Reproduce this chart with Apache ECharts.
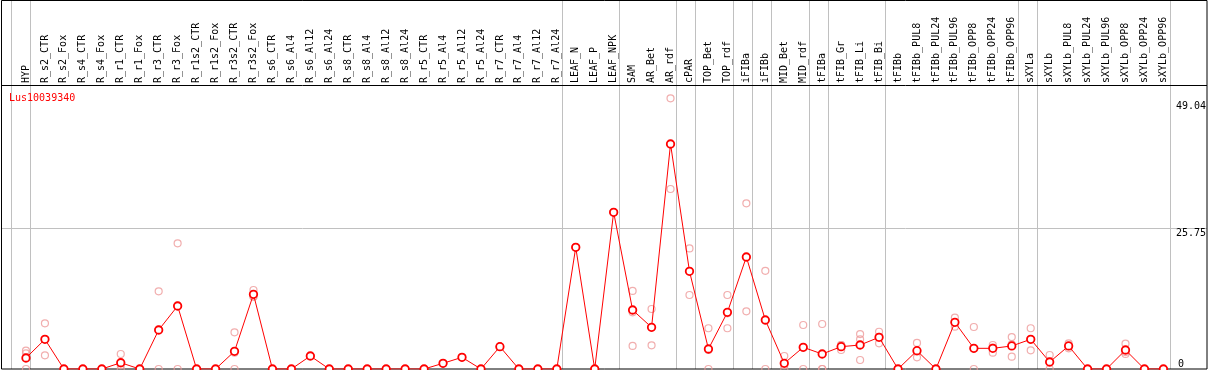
<!DOCTYPE html>
<html>
<head>
<meta charset="utf-8">
<script src="https://cdn.jsdelivr.net/npm/echarts@6/dist/echarts.min.js"></script>
<style>
html,body{margin:0;padding:0;background:#fff;}
#chart{width:1209px;height:370px;}
</style>
</head>
<body>
<div id="chart"></div>
<script>
const geneName = 'Lus10039340';
const categories = ['HYP','R_s2_CTR','R_s2_Fox','R_s4_CTR','R_s4_Fox','R_r1_CTR','R_r1_Fox','R_r3_CTR','R_r3_Fox','R_r1s2_CTR','R_r1s2_Fox','R_r3s2_CTR','R_r3s2_Fox','R_s6_CTR','R_s6_Al4','R_s6_Al12','R_s6_Al24','R_s8_CTR','R_s8_Al4','R_s8_Al12','R_s8_Al24','R_r5_CTR','R_r5_Al4','R_r5_Al12','R_r5_Al24','R_r7_CTR','R_r7_Al4','R_r7_Al12','R_r7_Al24','LEAF_N','LEAF_P','LEAF_NPK','SAM','AR_Bet','AR_rdf','cPAR','TOP_Bet','TOP_rdf','iFIBa','iFIBb','MID_Bet','MID_rdf','tFIBa','tFIB_Gr','tFIB_Li','tFIB_Bi','tFIBb','tFIBb_PUL8','tFIBb_PUL24','tFIBb_PUL96','tFIBb_OPP8','tFIBb_OPP24','tFIBb_OPP96','sXYLa','sXYLb','sXYLb_PUL8','sXYLb_PUL24','sXYLb_PUL96','sXYLb_OPP8','sXYLb_OPP24','sXYLb_OPP96'];
const groupStarts = [0,1,29,32,35,36,38,39,40,42,43,46,53,54];
const meanValues = [2.02,5.44,0,0,0,1.15,0,7.15,11.55,0,0,3.24,13.69,0,0,2.38,0,0,0,0,0,0,1.04,2.14,0,4.09,0,0,0,22.3,0,28.72,10.81,7.64,41.24,17.9,3.67,10.39,20.53,8.98,1.04,3.98,2.75,4.09,4.4,5.81,0,3.35,0,8.56,3.79,3.79,4.22,5.44,1.28,4.22,0,0,3.48,0,0];
const rep1 = [3.35,8.38,0,0,0,2.75,0,14.24,23.04,0,0,6.73,14.48,0,0,2.38,0,0,0,0,0,0,1.04,2.14,0,4.09,0,0,0,22.3,0,28.72,14.3,11.0,49.6,22.1,7.47,13.56,30.37,18.0,2.38,8.06,8.25,4.4,6.41,6.83,0,4.77,0,9.4,7.7,4.4,5.86,7.47,2.57,4.71,0,0,4.64,0,0];
const rep2 = [2.88,2.51,0,0,0,0,0,0,0,0,0,0,13.25,0,0,2.38,0,0,0,0,0,0,1.04,2.14,0,4.09,0,0,0,22.3,0,28.72,10.39,4.34,32.99,13.56,0,7.47,10.57,0,0.7,0,0,3.48,5.44,4.71,0,2.14,0,7.75,0,2.99,2.26,3.43,0,3.79,0,0,2.75,0,0];
const rep3 = [0,5.44,0,0,0,0.7,0,7.2,11.6,0,0,3.0,13.3,0,0,2.38,0,0,0,0,0,0,1.04,2.14,0,4.09,0,0,0,22.3,0,28.72,4.22,7.6,41.2,17.9,3.5,10.2,20.5,8.9,0,3.9,0,4.4,1.65,5.9,0,3.2,0,8.5,3.7,3.9,4.5,5.4,1.3,4.2,0,0,3.1,0,0];
const yMax = 51.5;
const yGridValue = 25.75;
const yTopLabels = [25.75, 49.04];
const yBottomLabels = [0];

const mono = 'DejaVu Sans Mono';
const chart = echarts.init(document.getElementById('chart'), null, {renderer: 'canvas'});

function repSeries(name, data) {
  return {
    name: name, type: 'scatter', xAxisIndex: 0, yAxisIndex: 0, data: data,
    symbol: 'circle', symbolSize: 7, z: 3,
    itemStyle: {color: 'rgba(0,0,0,0)', borderColor: '#ee9a9a', borderWidth: 1.2},
    emphasis: {disabled: true}, silent: true
  };
}

chart.setOption({
  animation: false,
  backgroundColor: '#fff',
  title: {
    text: geneName, left: 9, top: 93, padding: 0,
    textStyle: {color: '#ff0000', fontSize: 10, fontFamily: mono, fontWeight: 'normal'}
  },
  grid: [
    {left: 16.5, top: 88, width: 1159, height: 281},
    {left: 11, top: 0, width: 1159, height: 369},
    {left: 1, top: 88, width: 1206, height: 281}
  ],
  xAxis: [
    {
      type: 'category', gridIndex: 0, position: 'top', data: categories, boundaryGap: true,
      axisLine: {show: false}, axisTick: {show: false}, splitLine: {show: false},
      axisLabel: {rotate: 90, interval: 0, margin: 5, fontSize: 10, fontFamily: mono, color: '#000'}
    },
    {
      type: 'category', gridIndex: 1, data: categories, boundaryGap: true,
      axisLine: {show: false}, axisTick: {show: false}, axisLabel: {show: false},
      splitLine: {show: true, showMinLine: true, showMaxLine: true,
        interval: function (i) { return groupStarts.indexOf(i) >= 0; },
        lineStyle: {color: '#c0c0c0', width: 1}}
    },
    {
      type: 'value', gridIndex: 2, min: 0, max: 1,
      axisLine: {show: false}, axisTick: {show: false}, axisLabel: {show: false}, splitLine: {show: false}
    }
  ],
  yAxis: [
    {
      type: 'value', gridIndex: 0, min: 0, max: yMax, position: 'right',
      axisLine: {show: false}, axisTick: {show: false}, splitLine: {show: false},
      axisLabel: {customValues: yTopLabels, verticalAlign: 'top', align: 'left', margin: 3,
        fontSize: 10, fontFamily: mono, color: '#000', formatter: function (v) { return String(v); }}
    },
    {
      type: 'value', gridIndex: 0, min: 0, max: yMax, position: 'right',
      axisLine: {show: false}, axisTick: {show: false}, splitLine: {show: false},
      axisLabel: {customValues: yBottomLabels, verticalAlign: 'bottom', align: 'left', margin: 5,
        fontSize: 10, fontFamily: mono, color: '#000', formatter: function (v) { return String(v); }}
    },
    {
      type: 'value', gridIndex: 1, min: 0, max: 1, show: false
    },
    {
      type: 'value', gridIndex: 2, min: 0, max: yMax, interval: yGridValue,
      axisLine: {show: false}, axisTick: {show: false}, axisLabel: {show: false},
      splitLine: {show: true, showMinLine: false, showMaxLine: false, lineStyle: {color: '#c0c0c0', width: 1}}
    }
  ],
  graphic: [
    {type: 'line', z: 0, silent: true, shape: {x1: 11.5, y1: 0, x2: 11.5, y2: 369},
      style: {stroke: '#c0c0c0', lineWidth: 1}},
    {type: 'rect', z: 1, silent: true, shape: {x: 1.5, y: 0.5, width: 1205.5, height: 368.5},
      style: {fill: 'none', stroke: '#000', lineWidth: 1}},
    {type: 'line', z: 1, silent: true, shape: {x1: 1, y1: 85.5, x2: 1207, y2: 85.5},
      style: {stroke: '#000', lineWidth: 1}}
  ],
  series: [
    repSeries('rep1', rep1),
    repSeries('rep2', rep2),
    repSeries('rep3', rep3),
    {
      name: 'mean', type: 'line', xAxisIndex: 0, yAxisIndex: 0, data: meanValues, z: 5,
      symbol: 'circle', symbolSize: 7.5, showAllSymbol: true,
      lineStyle: {color: '#ff0000', width: 1},
      itemStyle: {color: '#fff', borderColor: '#ff0000', borderWidth: 1.8},
      emphasis: {disabled: true}, silent: true
    }
  ]
});
</script>
</body>
</html>
